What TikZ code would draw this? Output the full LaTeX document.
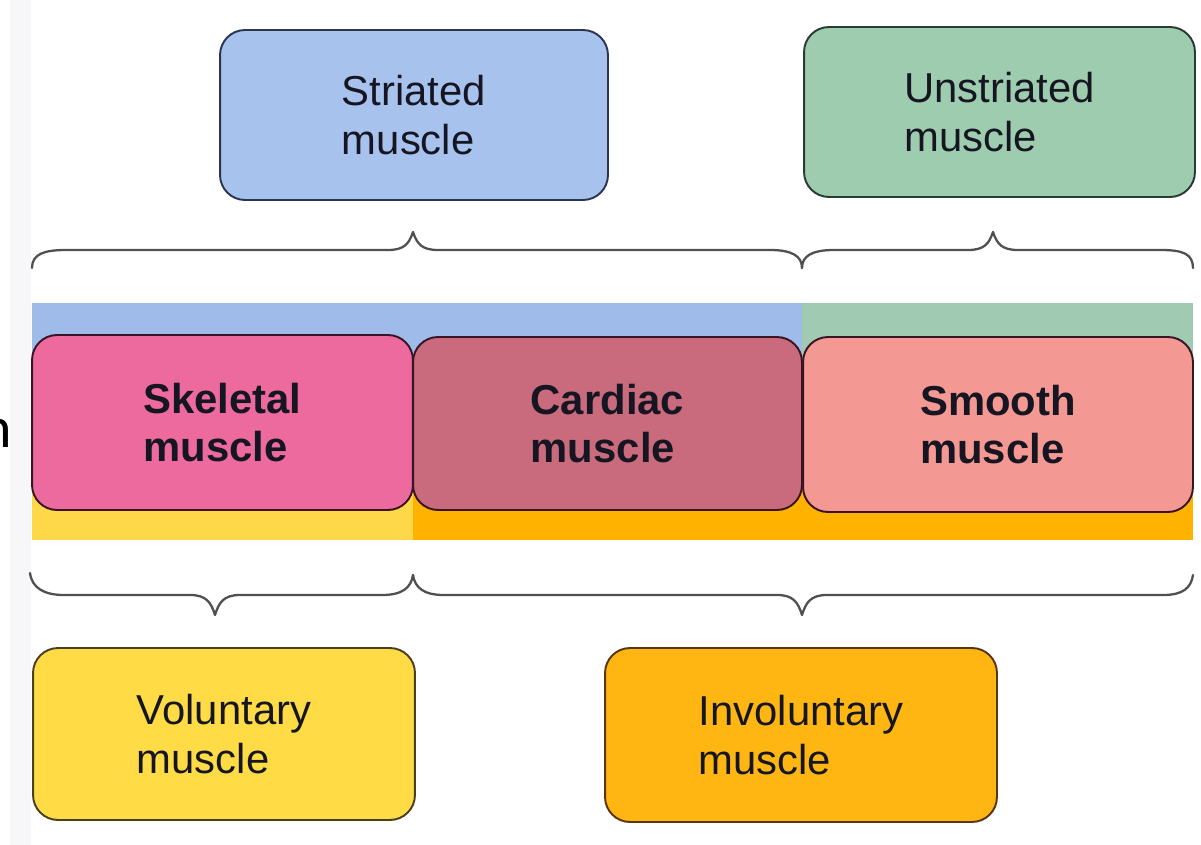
\documentclass[tikz,border=0pt]{standalone}
\usepackage{fontspec}
\newfontfamily\lab{Liberation Sans}
\newfontfamily\carlitofont{Carlito}
\definecolor{txt}{HTML}{161622}
\definecolor{bandblue}{HTML}{9FBBEA}
\definecolor{bandgreen}{HTML}{A0CBB2}
\definecolor{bandyellow}{HTML}{FFD84A}
\definecolor{bandorange}{HTML}{FFB300}
\definecolor{cstri}{HTML}{A8C2EE}
\definecolor{cunstri}{HTML}{9DCDAE}
\definecolor{cskel}{HTML}{EC6A9D}
\definecolor{ccard}{HTML}{C96B7C}
\definecolor{csmooth}{HTML}{F49893}
\definecolor{cvol}{HTML}{FFDC45}
\definecolor{cinvol}{HTML}{FFB612}
\definecolor{brace}{HTML}{505050}
\definecolor{strip}{HTML}{F7F7FA}
\definecolor{bordred}{HTML}{3A1424}
\definecolor{bordblue}{HTML}{2C3550}
\definecolor{bordgreen}{HTML}{2A3B30}
\definecolor{bordyellow}{HTML}{4A4020}
\definecolor{bordorange}{HTML}{5A3510}
\begin{document}
\begin{tikzpicture}[x=0.02cm,y=-0.02cm,
  box/.style={draw, rounded corners=0.5cm, line width=1.1pt, inner sep=0pt,
    align=left, text=txt, font=\lab\fontsize{23.8}{27.8}\selectfont},
  boldbox/.style={box, draw=bordred, font=\lab\bfseries\fontsize{23.8}{27}\selectfont},
  bracepath/.style={draw=brace, line width=1.3pt, line cap=round, line join=round}]
\useasboundingbox (0,0) rectangle (1201,845);
\fill[white] (0,0) rectangle (1201,845);
\fill[strip] (10,0) rectangle (31,845);
\node[anchor=base east, inner sep=0pt, text=black, font=\carlitofont\fontsize{33}{36}\selectfont] (cut) at (12,447) {n};
% colour bands
\fill[bandblue] (32,303) rectangle (802,380);
\fill[bandgreen] (802,303) rectangle (1193,380);
\fill[bandyellow] (32,470) rectangle (413,540);
\fill[bandorange] (413,470) rectangle (1193,540);
% top boxes
\node[box, fill=cstri, draw=bordblue, minimum width=7.76cm, minimum height=3.4cm] (stri) at (414,115) {Striated\\muscle};
\node[box, fill=cunstri, draw=bordgreen, minimum width=7.82cm, minimum height=3.4cm] (unstri) at (999.5,112) {Unstriated\\muscle};
% middle boxes
\node[boldbox, fill=cskel, minimum width=7.62cm, minimum height=3.5cm] (skel) at (222.5,422.5) {Skeletal\\muscle};
\node[boldbox, fill=ccard, minimum width=7.78cm, minimum height=3.46cm] (card) at (607.5,423.5) {Cardiac\\muscle};
\node[boldbox, fill=csmooth, minimum width=7.8cm, minimum height=3.5cm] (smooth) at (998,424.5) {Smooth\\muscle};
% bottom boxes
\node[box, fill=cvol, draw=bordyellow, minimum width=7.64cm, minimum height=3.44cm] (vol) at (224,734) {Voluntary\\muscle};
\node[box, fill=cinvol, draw=bordorange, minimum width=7.84cm, minimum height=3.48cm] (invol) at (801,735) {Involuntary\\muscle};
% braces
\draw[bracepath] (32,268) .. controls (32,254) and (44,250) .. (66,250) -- (388,250)
  .. controls (404,250) and (409,244) .. (413,232) .. controls (417,244) and (422,250) .. (438,250)
  -- (770,250) .. controls (792,250) and (802,256) .. (802,268);
\draw[bracepath] (802,268) .. controls (802,256) and (812,250) .. (834,250) -- (968,250)
  .. controls (984,250) and (989,244) .. (993,232) .. controls (997,244) and (1002,250) .. (1018,250)
  -- (1161,250) .. controls (1183,250) and (1193,254) .. (1193,268);
\draw[bracepath] (30,573) .. controls (32,588) and (44,595) .. (64,595) -- (190,595)
  .. controls (206,595) and (211,602) .. (215,615) .. controls (219,602) and (224,595) .. (240,595)
  -- (382,595) .. controls (402,595) and (411,588) .. (413,575);
\draw[bracepath] (413,575) .. controls (415,588) and (424,595) .. (444,595) -- (777,595)
  .. controls (793,595) and (798,602) .. (802,615) .. controls (806,602) and (811,595) .. (827,595)
  -- (1163,595) .. controls (1183,595) and (1191,588) .. (1193,575);
\end{tikzpicture}
\end{document}
